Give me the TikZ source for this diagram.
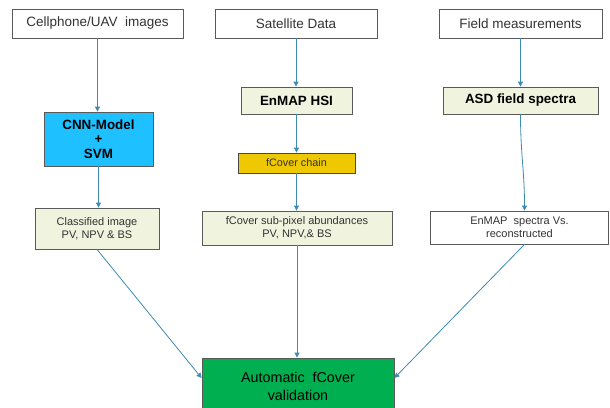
\documentclass[tikz,border=0pt]{standalone}
\usepackage{fontspec}
\setmainfont{Liberation Sans}
\usetikzlibrary{arrows.meta}
\definecolor{arrowc}{HTML}{3D8BB0}
\definecolor{edgec}{HTML}{5A5A5A}
\definecolor{paleg}{HTML}{F0F4DE}
\definecolor{cyanbox}{HTML}{1EC0FF}
\definecolor{goldbox}{HTML}{EEC800}
\definecolor{greenbox}{HTML}{00B050}
\definecolor{txtc}{HTML}{333333}
\tikzset{
  box/.style={draw=edgec, line width=0.8pt, inner sep=0pt, align=center, text=txtc},
  topbox/.style={box, fill=white, font=\fontsize{13.5}{16}\selectfont},
  boldbox/.style={box, fill=paleg, text=black, font=\bfseries\fontsize{13.4}{16}\selectfont},
  smallbox/.style={box, fill=paleg, font=\fontsize{11}{13}\selectfont},
  conn/.style={draw=arrowc, line width=0.8pt, -{Triangle[length=5pt,width=5pt]}}
}
\begin{document}
\begin{tikzpicture}[x=1pt,y=-1pt]
\useasboundingbox (0,0) rectangle (610,407);
\fill[white] (0,0) rectangle (610,407);
\begin{scope}
\clip (0,0) rectangle (610,407);
% top row
\node[topbox, minimum width=171pt, minimum height=29pt] (cell) at (97.5,23.5) {Cellphone/UAV\ \ images};
\node[topbox, minimum width=162pt, minimum height=29pt] (sat) at (296,23.5) {Satellite Data};
\node[topbox, minimum width=163pt, minimum height=29pt] (field) at (520.5,23.5) {Field measurements};
% second row
\node[box, fill=cyanbox, text=black, font=\bfseries\fontsize{13.4}{16}\selectfont, minimum width=109pt, minimum height=54pt] (cnn) at (98.5,139) {CNN-Model\\[-1.5pt]+\\[-1.5pt]SVM};
\node[boldbox, minimum width=111pt, minimum height=27pt] (hsi) at (296.5,100.5) {EnMAP HSI};
\node[boldbox, minimum width=155pt, minimum height=27pt] (asd) at (520.5,100.5) {ASD field spectra};
\node[box, fill=goldbox, draw=edgec!80!black, font=\fontsize{10.8}{13}\selectfont, minimum width=117pt, minimum height=20pt] (chain) at (296.5,163) {fCover chain};
% third row
\node[smallbox, minimum width=124pt, minimum height=41pt] (cls) at (97,228.5) {Classified image\\PV, NPV \& BS};
\node[smallbox, minimum width=190pt, minimum height=34pt] (sub) at (297,228) {fCover sub-pixel abundances\\PV, NPV,\& BS};
\node[smallbox, fill=white, minimum width=178pt, minimum height=33pt] (spec) at (519.5,227.5) {EnMAP\ \ spectra Vs.\\reconstructed};
% bottom
\node[box, fill=greenbox, text=black, font=\fontsize{14.3}{18}\selectfont, minimum width=192pt, minimum height=56pt] (auto) at (298,386) {Automatic\ \ fCover\\validation};
% connectors
\draw[conn] (cell.south) -- (cell.south |- cnn.north);
\draw[conn] (cnn.south) -- (cnn.south |- cls.north);
\draw[conn] (sat.south) -- (sat.south |- hsi.north);
\draw[conn] (hsi.south) -- (hsi.south |- chain.north);
\draw[conn] (chain.south) -- (chain.south |- sub.north);
\draw[conn] (field.south) -- (field.south |- asd.north);
\draw[conn] (asd.south) .. controls +(0,40) and +(0,-40) .. ([xshift=5pt]spec.north);
\draw[conn] (cls.south) -- ([yshift=8pt]auto.west);
\draw[conn] (sub.south) -- (sub.south |- auto.north);
\draw[conn] ([xshift=5pt]spec.south) -- ([yshift=8pt]auto.east);
\end{scope}
\end{tikzpicture}
\end{document}
